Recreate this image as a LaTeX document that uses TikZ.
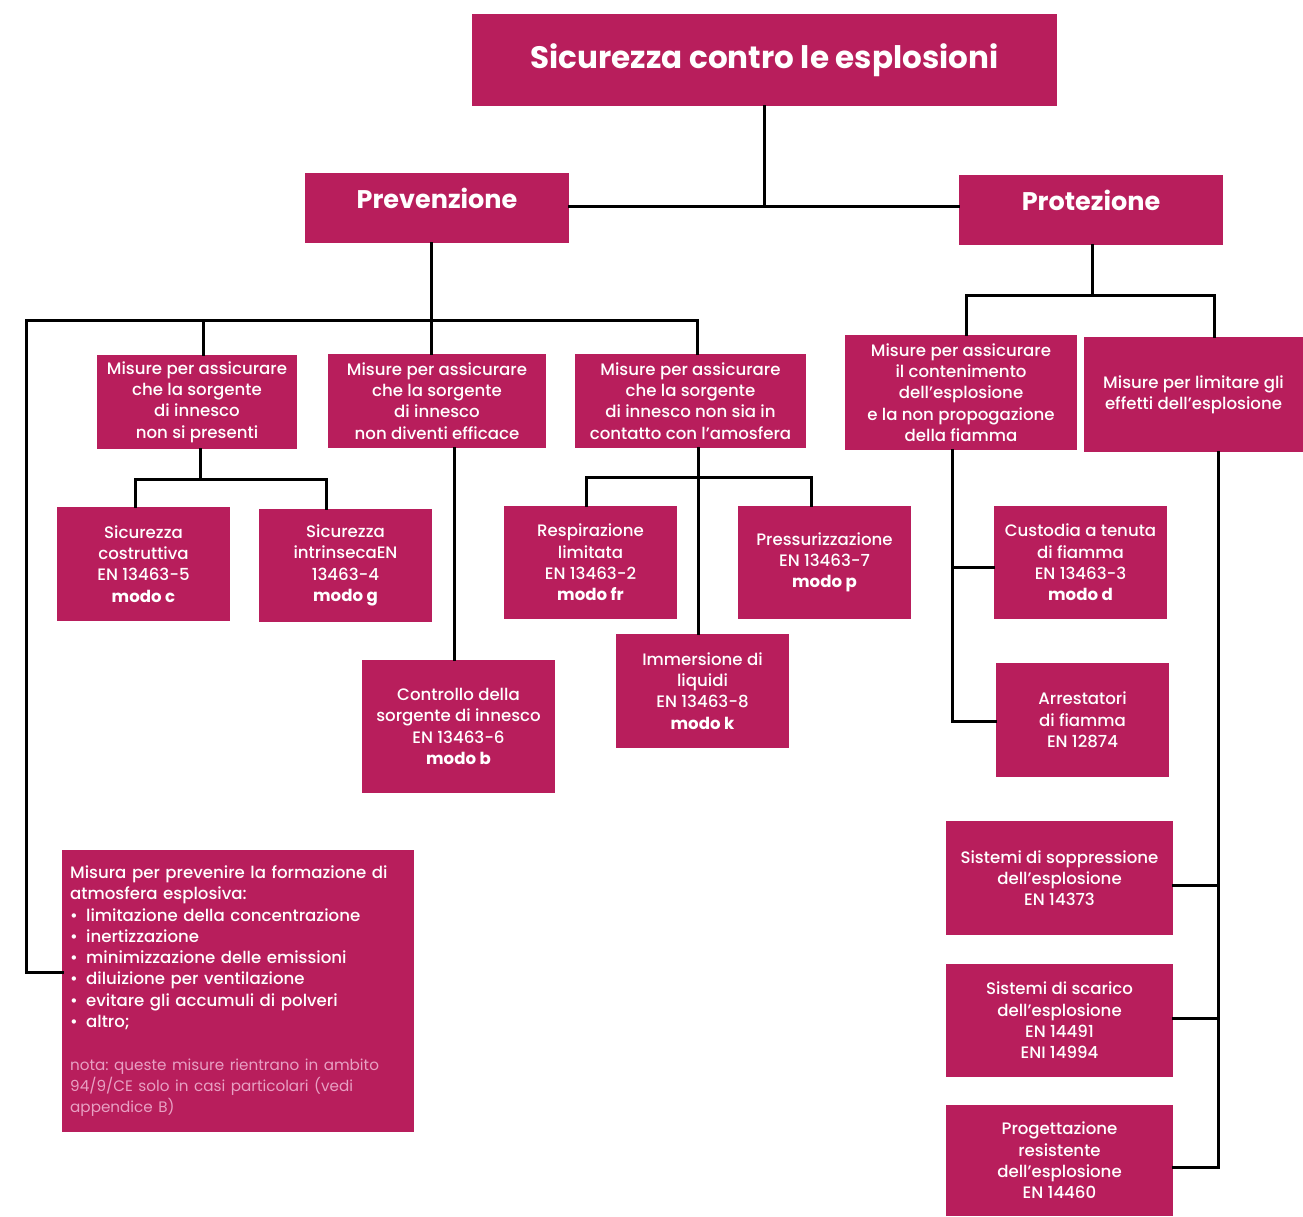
\documentclass[tikz,border=0pt]{standalone}
\usepackage{fontspec}
\setmainfont{Poppins}[UprightFont=* Medium, BoldFont=* Bold]
\newfontfamily\notafont{Poppins}
\frenchspacing
\definecolor{mag}{RGB}{184,30,92}
\definecolor{notapink}{RGB}{232,160,195}
\newcommand{\bodyfont}{\fontsize{16.6}{21.3}\selectfont}
\newcommand{\bx}[6]{\node[box, minimum width={(#4-#2)*1pt}, minimum height={(#5-#3)*1pt}] (#1) at ({(#2+#4)/2},{(#3+#5)/2}) {#6};}
\tikzset{
  box/.style={fill=mag, text=white, inner sep=0pt, align=center, font=\bodyfont},
  conn/.style={draw=black, line width=3pt, line cap=rect},
}
\begin{document}
\begin{tikzpicture}[x=1pt,y=-1pt]
\useasboundingbox (0,0) rectangle (1303,1216);
% top level
\bx{title}{472}{14}{1057}{106}{\fontsize{31}{34}\selectfont\bfseries Sicurezza contro le esplosioni}
\bx{prev}{305}{173}{569}{243}{\raisebox{20pt}{\fontsize{25.5}{28}\selectfont\bfseries Prevenzione}}
\bx{prot}{959}{175}{1223}{245}{\raisebox{20pt}{\fontsize{25.5}{28}\selectfont\bfseries Protezione}}
% prevention
\bx{m1}{97}{355}{297}{449}{Misure per assicurare\\che la sorgente\\di innesco\\non si presenti}
\bx{m2}{328}{354}{546}{448}{Misure per assicurare\\che la sorgente\\di innesco\\non diventi efficace}
\bx{m3}{575}{354}{806}{448}{Misure per assicurare\\che la sorgente\\di innesco non sia in\\contatto con l’amosfera}
\bx{s1}{57}{507}{230}{621}{Sicurezza\\costruttiva\\EN 13463-5\\\textbf{modo c}}
\bx{s2}{259}{509}{432}{622}{Sicurezza\\intrinsecaEN\\13463-4\\\textbf{modo g}}
\bx{cb}{362}{660}{555}{793}{Controllo della\\sorgente di innesco\\EN 13463-6\\\textbf{modo b}}
\bx{rl}{504}{506}{677}{619}{Respirazione\\limitata\\EN 13463-2\\\textbf{modo fr}}
\bx{pr}{738}{506}{911}{619}{Pressurizzazione\\EN 13463-7\\\textbf{modo p}}
\bx{il}{616}{634}{789}{748}{Immersione di\\liquidi\\EN 13463-8\\\textbf{modo k}}
\node[box, anchor=north west, minimum width=352pt, minimum height=282pt, text width=336pt, inner xsep=8pt, align=left] (big) at (62,850)
{Misura per prevenire la formazione di\\atmosfera esplosiva:\\
•\, limitazione della concentrazione\\
•\, inertizzazione\\
•\, minimizzazione delle emissioni\\
•\, diluizione per ventilazione\\
•\, evitare gli accumuli di polveri\\
•\, altro;\\[21.3pt]
{\color{notapink}\notafont\fontsize{15.2}{21.3}\selectfont nota: queste misure rientrano in ambito}\\
{\color{notapink}\notafont\fontsize{15.2}{21.3}\selectfont 94/9/CE solo in casi particolari (vedi}\\
{\color{notapink}\notafont\fontsize{15.2}{21.3}\selectfont appendice B)}};
% protection
\bx{pc}{845}{335}{1077}{450}{Misure per assicurare\\il contenimento\\dell’esplosione\\e la non propogazione\\della fiamma}
\bx{pl}{1084}{337}{1303}{452}{Misure per limitare gli\\effetti dell’esplosione}
\bx{cu}{994}{506}{1167}{619}{Custodia a tenuta\\di fiamma\\EN 13463-3\\\textbf{modo d}}
\bx{ar}{996}{663}{1169}{777}{Arrestatori\\di fiamma\\EN 12874}
\bx{ss}{946}{821}{1173}{935}{Sistemi di soppressione\\dell’esplosione\\EN 14373}
\bx{sc}{946}{964}{1173}{1077}{Sistemi di scarico\\dell’esplosione\\EN 14491\\ENI 14994}
\bx{pg}{946}{1105}{1173}{1216}{Progettazione\\resistente\\dell’esplosione\\EN 14460}
% junction coordinates
\coordinate (j0) at (764,206);
\coordinate (jp) at (431,320);
\coordinate (jl) at (26,320);
\coordinate (jr) at (697,320);
\coordinate (jb) at (26,972);
\coordinate (d1) at (203,320);
\coordinate (k1) at (200,479);
\coordinate (k1l) at (135,479);
\coordinate (k1r) at (326,479);
\coordinate (k2) at (454,448);
\coordinate (k3) at (698,477);
\coordinate (k3l) at (586,477);
\coordinate (k3r) at (811,477);
\coordinate (q0) at (1092,295);
\coordinate (ql) at (966,295);
\coordinate (qr) at (1214,295);
\coordinate (q1) at (952,450);
\coordinate (q1a) at (952,567);
\coordinate (q1b) at (952,721);
\coordinate (q2) at (1218,452);
\coordinate (q2a) at (1218,885);
\coordinate (q2b) at (1218,1018);
\coordinate (q2c) at (1218,1167);
% connectors
\draw[conn] (title.south -| j0) -- (j0);
\draw[conn] (prev.east |- j0) -- (prot.west |- j0);
\draw[conn] (prev.south -| jp) -- (jp);
\draw[conn] (jr) -- (jl) -- (jb) -- (big.west |- jb);
\draw[conn] (d1) -- (d1 |- m1.north);
\draw[conn] (jp) -- (jp |- m2.north);
\draw[conn] (jr) -- (jr |- m3.north);
\draw[conn] (m1.south -| k1) -- (k1);
\draw[conn] (k1l |- s1.north) -- (k1l) -- (k1r) -- (k1r |- s2.north);
\draw[conn] (k2) -- (k2 |- cb.north);
\draw[conn] (m3.south -| k3) -- (k3 |- il.north);
\draw[conn] (k3l |- rl.north) -- (k3l) -- (k3r) -- (k3r |- pr.north);
\draw[conn] (prot.south -| q0) -- (q0);
\draw[conn] (ql |- pc.north) -- (ql) -- (qr) -- (qr |- pl.north);
\draw[conn] (q1) -- (q1b) -- (ar.west |- q1b);
\draw[conn] (q1a) -- (cu.west |- q1a);
\draw[conn] (pl.south -| q2) -- (q2c) -- (pg.east |- q2c);
\draw[conn] (q2a) -- (ss.east |- q2a);
\draw[conn] (q2b) -- (sc.east |- q2b);
\end{tikzpicture}
\end{document}
